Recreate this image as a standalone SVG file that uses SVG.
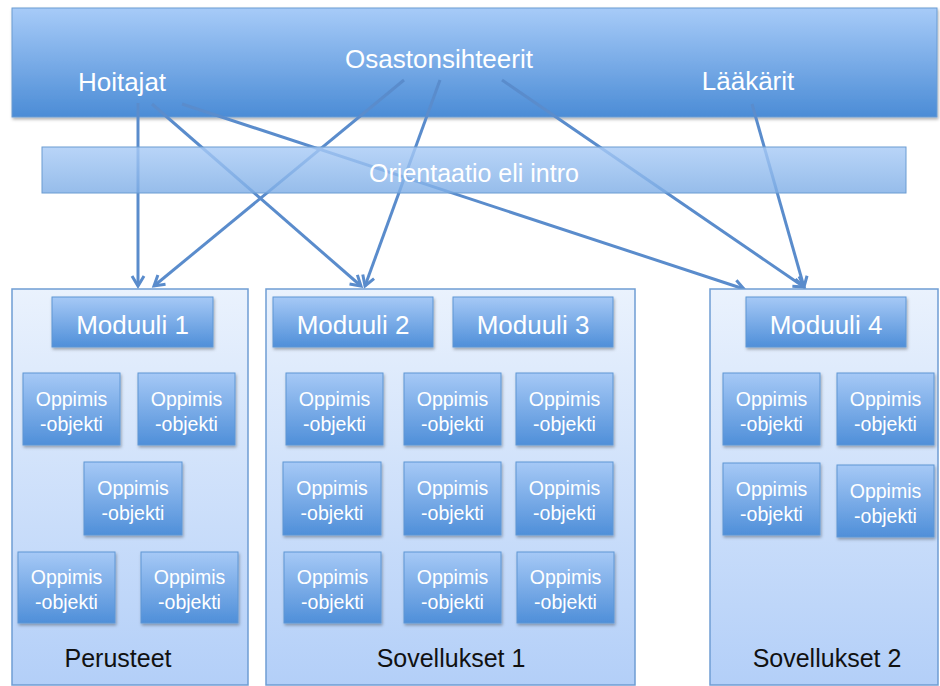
<svg xmlns="http://www.w3.org/2000/svg" width="940" height="686" viewBox="0 0 940 686">
<defs>
<linearGradient id="gBanner" x1="0" y1="0" x2="0" y2="1">
<stop offset="0" stop-color="#a7cbf8"/><stop offset="1" stop-color="#4b8cd6"/>
</linearGradient>
<linearGradient id="gBand" x1="0" y1="0" x2="0" y2="1">
<stop offset="0" stop-color="#a9cbf6"/><stop offset="1" stop-color="#7faee6"/>
</linearGradient>
<linearGradient id="gCont" x1="0" y1="0" x2="0" y2="1">
<stop offset="0" stop-color="#eaf2fd"/><stop offset="1" stop-color="#b3cff8"/>
</linearGradient>
<linearGradient id="gBox" x1="0" y1="0" x2="0" y2="1">
<stop offset="0" stop-color="#a6c9f6"/><stop offset="1" stop-color="#4f8fd9"/>
</linearGradient>
<filter id="sh" x="-10%" y="-10%" width="130%" height="140%">
<feDropShadow dx="1" dy="2" stdDeviation="1.5" flood-color="#000" flood-opacity="0.3"/>
</filter>
<marker id="arr" markerUnits="userSpaceOnUse" markerWidth="16" markerHeight="16" refX="12" refY="8" orient="auto" viewBox="0 0 16 16">
<path d="M2,2 L12,8 L2,14" fill="none" stroke="#5a8ccc" stroke-width="3" stroke-linejoin="miter"/>
</marker>
<style>
.lbl{font-family:"Liberation Sans",Arial,sans-serif;fill:#fff;text-anchor:middle}
.top{font-size:26px}
.mod{font-size:26px}
.obj{font-size:19.5px}
.cap{font-family:"Liberation Sans",Arial,sans-serif;fill:#111;text-anchor:middle;font-size:25px}
.box{fill:url(#gBox);stroke:#5f96d4;stroke-width:1;filter:url(#sh)}
.cont{fill:url(#gCont);stroke:#6f9dd3;stroke-width:1.5}
.conn{stroke:#5a8ccc;stroke-width:3;fill:none;marker-end:url(#arr)}
</style>
</defs>

<g id="banner">
<rect x="12" y="8" width="925" height="109" fill="url(#gBanner)" stroke="#6b9cd2" stroke-width="1" filter="url(#sh)"/>
<text class="lbl top" x="122" y="91">Hoitajat</text>
<text class="lbl top" x="439" y="68">Osastonsihteerit</text>
<text class="lbl top" x="748" y="90">Lääkärit</text>
</g>

<g id="connectors">
<line class="conn" x1="138" y1="103" x2="138" y2="286"/>
<line class="conn" x1="152" y1="104" x2="361" y2="286"/>
<line class="conn" x1="182" y1="104" x2="744" y2="289"/>
<line class="conn" x1="404" y1="80" x2="154" y2="286"/>
<line class="conn" x1="440" y1="80" x2="365" y2="286"/>
<line class="conn" x1="502" y1="80" x2="804" y2="287"/>
<line class="conn" x1="752" y1="104" x2="804" y2="287"/>
</g>

<g id="orientaatio">
<rect x="42" y="147" width="864" height="46" fill="url(#gBand)" fill-opacity="0.82" stroke="#6b9cd2" stroke-width="1"/>
<text class="lbl" x="474" y="182" font-size="25">Orientaatio eli intro</text>
</g>

<g id="perusteet">
<rect class="cont" x="12" y="289" width="236" height="396"/>
<text class="cap" x="118" y="667">Perusteet</text>
</g>
<g id="sovellukset1">
<rect class="cont" x="266" y="289" width="369" height="396"/>
<text class="cap" x="451" y="667">Sovellukset 1</text>
</g>
<g id="sovellukset2">
<rect class="cont" x="710" y="289" width="228" height="396"/>
<text class="cap" x="827" y="667">Sovellukset 2</text>
</g>

<g id="moduuli1"><rect class="box" x="52" y="297" width="161" height="50"/><text class="lbl mod" x="132.5" y="334">Moduuli 1</text></g>
<g id="moduuli2"><rect class="box" x="273" y="297" width="160" height="50"/><text class="lbl mod" x="353" y="334">Moduuli 2</text></g>
<g id="moduuli3"><rect class="box" x="453" y="297" width="160" height="50"/><text class="lbl mod" x="533" y="334">Moduuli 3</text></g>
<g id="moduuli4"><rect class="box" x="746" y="297" width="160" height="50"/><text class="lbl mod" x="826" y="334">Moduuli 4</text></g>

<g id="op-p1"><rect class="box" x="23" y="373" width="97" height="72"/><text class="lbl obj" x="71.5" y="406">Oppimis</text><text class="lbl obj" x="71.5" y="431">-objekti</text></g>
<g id="op-p2"><rect class="box" x="138" y="373" width="97" height="72"/><text class="lbl obj" x="186.5" y="406">Oppimis</text><text class="lbl obj" x="186.5" y="431">-objekti</text></g>
<g id="op-p3"><rect class="box" x="84" y="462" width="98" height="73"/><text class="lbl obj" x="133" y="495">Oppimis</text><text class="lbl obj" x="133" y="520">-objekti</text></g>
<g id="op-p4"><rect class="box" x="18" y="552" width="97" height="71"/><text class="lbl obj" x="66.5" y="584">Oppimis</text><text class="lbl obj" x="66.5" y="609">-objekti</text></g>
<g id="op-p5"><rect class="box" x="141" y="552" width="97" height="71"/><text class="lbl obj" x="189.5" y="584">Oppimis</text><text class="lbl obj" x="189.5" y="609">-objekti</text></g>

<g id="op-s1-1"><rect class="box" x="286" y="373" width="97" height="72"/><text class="lbl obj" x="334.5" y="406">Oppimis</text><text class="lbl obj" x="334.5" y="431">-objekti</text></g>
<g id="op-s1-2"><rect class="box" x="404" y="373" width="97" height="72"/><text class="lbl obj" x="452.5" y="406">Oppimis</text><text class="lbl obj" x="452.5" y="431">-objekti</text></g>
<g id="op-s1-3"><rect class="box" x="516" y="373" width="97" height="72"/><text class="lbl obj" x="564.5" y="406">Oppimis</text><text class="lbl obj" x="564.5" y="431">-objekti</text></g>
<g id="op-s1-4"><rect class="box" x="283" y="462" width="98" height="73"/><text class="lbl obj" x="332" y="495">Oppimis</text><text class="lbl obj" x="332" y="520">-objekti</text></g>
<g id="op-s1-5"><rect class="box" x="404" y="462" width="97" height="73"/><text class="lbl obj" x="452.5" y="495">Oppimis</text><text class="lbl obj" x="452.5" y="520">-objekti</text></g>
<g id="op-s1-6"><rect class="box" x="516" y="462" width="97" height="73"/><text class="lbl obj" x="564.5" y="495">Oppimis</text><text class="lbl obj" x="564.5" y="520">-objekti</text></g>
<g id="op-s1-7"><rect class="box" x="284" y="552" width="97" height="71"/><text class="lbl obj" x="332.5" y="584">Oppimis</text><text class="lbl obj" x="332.5" y="609">-objekti</text></g>
<g id="op-s1-8"><rect class="box" x="404" y="552" width="97" height="71"/><text class="lbl obj" x="452.5" y="584">Oppimis</text><text class="lbl obj" x="452.5" y="609">-objekti</text></g>
<g id="op-s1-9"><rect class="box" x="517" y="552" width="97" height="71"/><text class="lbl obj" x="565.5" y="584">Oppimis</text><text class="lbl obj" x="565.5" y="609">-objekti</text></g>

<g id="op-s2-1"><rect class="box" x="723" y="373" width="97" height="72"/><text class="lbl obj" x="771.5" y="406">Oppimis</text><text class="lbl obj" x="771.5" y="431">-objekti</text></g>
<g id="op-s2-2"><rect class="box" x="837" y="373" width="97" height="72"/><text class="lbl obj" x="885.5" y="406">Oppimis</text><text class="lbl obj" x="885.5" y="431">-objekti</text></g>
<g id="op-s2-3"><rect class="box" x="723" y="463" width="97" height="72"/><text class="lbl obj" x="771.5" y="496">Oppimis</text><text class="lbl obj" x="771.5" y="521">-objekti</text></g>
<g id="op-s2-4"><rect class="box" x="837" y="465" width="97" height="72"/><text class="lbl obj" x="885.5" y="498">Oppimis</text><text class="lbl obj" x="885.5" y="523">-objekti</text></g>
</svg>
